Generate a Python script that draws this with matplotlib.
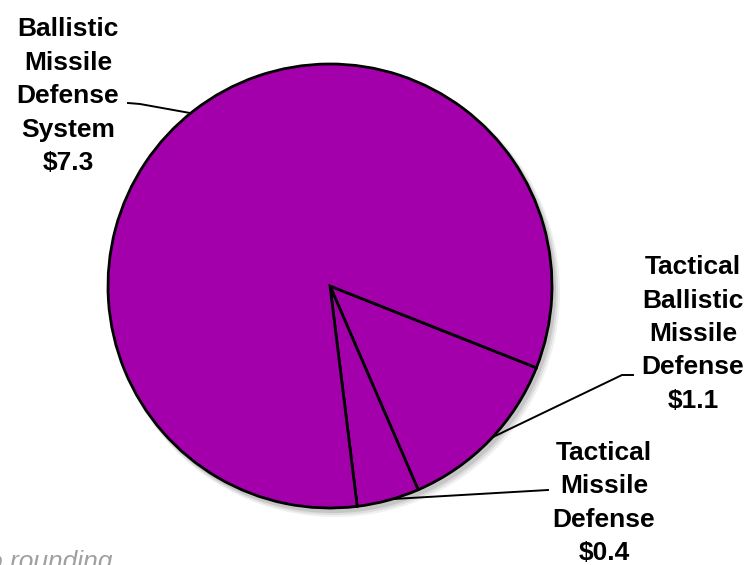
import matplotlib.pyplot as plt
from matplotlib.patches import Circle

# funding by program, $B
programs = ['Tactical\nBallistic\nMissile\nDefense', 'Tactical\nMissile\nDefense',
            'Ballistic\nMissile\nDefense\nSystem']
amounts = [1.1, 0.4, 7.3]
amount_labels = ['$1.1', '$0.4', '$7.3']

H = 565  # figure height in px, used to flip y


def py(y):
    return H - y


fig = plt.figure(figsize=(7.54, 5.65), dpi=100)
ax = fig.add_axes([0, 0, 1, 1])

cx, cy, r = 330, py(286), 222

# soft drop shadow
for k, a in enumerate([0.10, 0.08, 0.06]):
    ax.add_patch(Circle((cx + 3 + k, cy - 4 - k), r + 1 + k, color='black', alpha=a, lw=0, zorder=0))

wedges, _ = ax.pie(amounts, center=(cx, cy), radius=r, startangle=-21.6, counterclock=False,
                   colors=['#A300AB'] * 3,
                   wedgeprops=dict(edgecolor='black', linewidth=2.0))
for w in wedges:
    w.set_zorder(2)

ax.set_xlim(0, 754)
ax.set_ylim(0, H)
ax.set_aspect('auto')
ax.axis('off')

font = dict(family=['Liberation Sans', 'DejaVu Sans'], fontsize=19, fontweight='bold',
            ha='center', va='center', linespacing=1.5)
label_pos = [(693, 334), (604, 503), (68, 96)]
for name, amt, (x, y) in zip(programs, amount_labels, label_pos):
    ax.text(x, py(y), name + '\n' + amt, **font)

# leader lines
leaders = [
    [(633, 375), (622, 375), (493, 437)],
    [(548, 490), (393, 499)],
    [(128, 103), (140, 104), (190, 113)],
]
for pts in leaders:
    ax.plot([p[0] for p in pts], [py(p[1]) for p in pts], color='black', lw=1.4, zorder=3)

ax.text(112, py(569), 'Totals may not add due to rounding', ha='right', va='baseline',
        fontsize=19, style='italic', color='#A0A0A0', family=['Liberation Sans', 'DejaVu Sans'])

fig.savefig('out.png', dpi=100)
